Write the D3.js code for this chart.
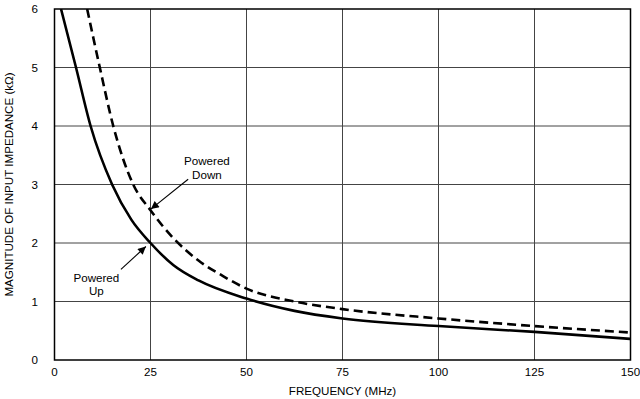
<!DOCTYPE html>
<html>
<head>
<meta charset="utf-8">
<script src="https://cdn.jsdelivr.net/npm/d3@7"></script>
<style>
  body { margin: 0; background: #fff; }
  text { font-family: "Liberation Sans", Arial, sans-serif; fill: #000; }
</style>
</head>
<body>
<svg id="chart" width="640" height="399"></svg>
<script>
// frequency (MHz) / impedance (kOhm)
const poweredUp = [
  [1.7, 6], [5.6, 5], [9.4, 4], [15, 3], [20, 2.4], [25, 2.0], [31, 1.62],
  [37.5, 1.36], [50, 1.05], [62.5, 0.84], [75, 0.71], [100, 0.58], [125, 0.48], [150, 0.36]
];
const poweredDown = [
  [8.5, 6], [11.8, 5], [15.3, 4], [20.5, 3], [25, 2.56], [31, 2.08],
  [37.5, 1.7], [44, 1.43], [50, 1.22], [62.5, 1.0], [75, 0.87], [100, 0.71], [125, 0.58], [150, 0.47]
];
const xTicks = [0, 25, 50, 75, 100, 125, 150];
const yTicks = [0, 1, 2, 3, 4, 5, 6];

// annotations: label lines and arrow (from -> to), in data units
const notes = [
  { lines: ["Powered", "Down"], at: [39.7, 3.33], from: [34.8, 3.09], to: [25.1, 2.58] },
  { lines: ["Powered", "Up"], at: [10.9, 1.34], from: [17.3, 1.55], to: [23.8, 1.94] }
];

const margin = { top: 9, left: 54.5, right: 9.5, bottom: 39 };
const width = 640, height = 399;

const svg = d3.select("#chart");

const x = d3.scaleLinear().domain([0, 150]).range([margin.left, width - margin.right]);
const y = d3.scaleLinear().domain([0, 6]).range([height - margin.bottom, margin.top]);

/*
 * grid
 */
const grid = svg.append("g");
grid.selectAll("line.vx")
  .data(xTicks.slice(1, -1))
  .enter().append("line")
  .attr("x1", d => x(d)).attr("x2", d => x(d))
  .attr("y1", y(0)).attr("y2", y(6))
  .attr("stroke", "#444").attr("stroke-width", 1);
grid.selectAll("line.hy")
  .data(yTicks.slice(1, -1))
  .enter().append("line")
  .attr("x1", x(0)).attr("x2", x(150))
  .attr("y1", d => y(d)).attr("y2", d => y(d))
  .attr("stroke", "#444").attr("stroke-width", 1);

// frame
svg.append("rect")
  .attr("x", x(0)).attr("y", y(6))
  .attr("width", x(150) - x(0)).attr("height", y(0) - y(6))
  .attr("fill", "none").attr("stroke", "#000").attr("stroke-width", 1.5);

/*
 * tick labels
 */
svg.append("g").selectAll("text")
  .data(xTicks)
  .enter().append("text")
  .attr("x", d => x(d)).attr("y", y(0) + 16)
  .attr("text-anchor", "middle")
  .attr("font-size", 11.6)
  .text(d => d);

svg.append("g").selectAll("text")
  .data(yTicks)
  .enter().append("text")
  .attr("x", x(0) - 16.5).attr("y", d => y(d) + 4)
  .attr("text-anchor", "end")
  .attr("font-size", 11.6)
  .text(d => d);

// axis titles
svg.append("text")
  .attr("x", (x(0) + x(150)) / 2).attr("y", 394.5)
  .attr("text-anchor", "middle")
  .attr("font-size", 11.6)
  .text("FREQUENCY (MHz)");

svg.append("text")
  .attr("transform", `translate(12.5,${(y(0) + y(6)) / 2}) rotate(-90)`)
  .attr("text-anchor", "middle")
  .attr("font-size", 11.6)
  .text("MAGNITUDE OF INPUT IMPEDANCE (kΩ)");

/*
 * curves
 */
svg.append("clipPath").attr("id", "plot-clip")
  .append("rect")
  .attr("x", x(0)).attr("y", y(6))
  .attr("width", x(150) - x(0)).attr("height", y(0) - y(6));

const line = d3.line()
  .curve(d3.curveMonotoneX)
  .x(d => x(d[0]))
  .y(d => y(d[1]));

const curves = svg.append("g").attr("clip-path", "url(#plot-clip)");
curves.append("path")
  .attr("d", line(poweredDown))
  .attr("fill", "none").attr("stroke", "#000")
  .attr("stroke-width", 2.6)
  .attr("stroke-dasharray", "9,5");
curves.append("path")
  .attr("d", line(poweredUp))
  .attr("fill", "none").attr("stroke", "#000")
  .attr("stroke-width", 2.6);

/*
 * annotations
 */
svg.append("defs").append("marker")
  .attr("id", "arrow")
  .attr("viewBox", "0 0 10 10")
  .attr("refX", 10).attr("refY", 5)
  .attr("markerWidth", 11).attr("markerHeight", 8)
  .attr("markerUnits", "userSpaceOnUse")
  .attr("orient", "auto")
  .append("path")
  .attr("d", "M0,0 L10,5 L0,10 Z")
  .attr("fill", "#000");

const ann = svg.append("g");
notes.forEach(n => {
  ann.append("line")
    .attr("x1", x(n.from[0])).attr("y1", y(n.from[1]))
    .attr("x2", x(n.to[0])).attr("y2", y(n.to[1]))
    .attr("stroke", "#000").attr("stroke-width", 1.1)
    .attr("marker-end", "url(#arrow)");
  n.lines.forEach((t, i) => {
    ann.append("text")
      .attr("x", x(n.at[0]))
      .attr("y", y(n.at[1]) + i * 13.5)
      .attr("text-anchor", "middle")
      .attr("font-size", 11.6)
      .text(t);
  });
});
</script>
</body>
</html>
